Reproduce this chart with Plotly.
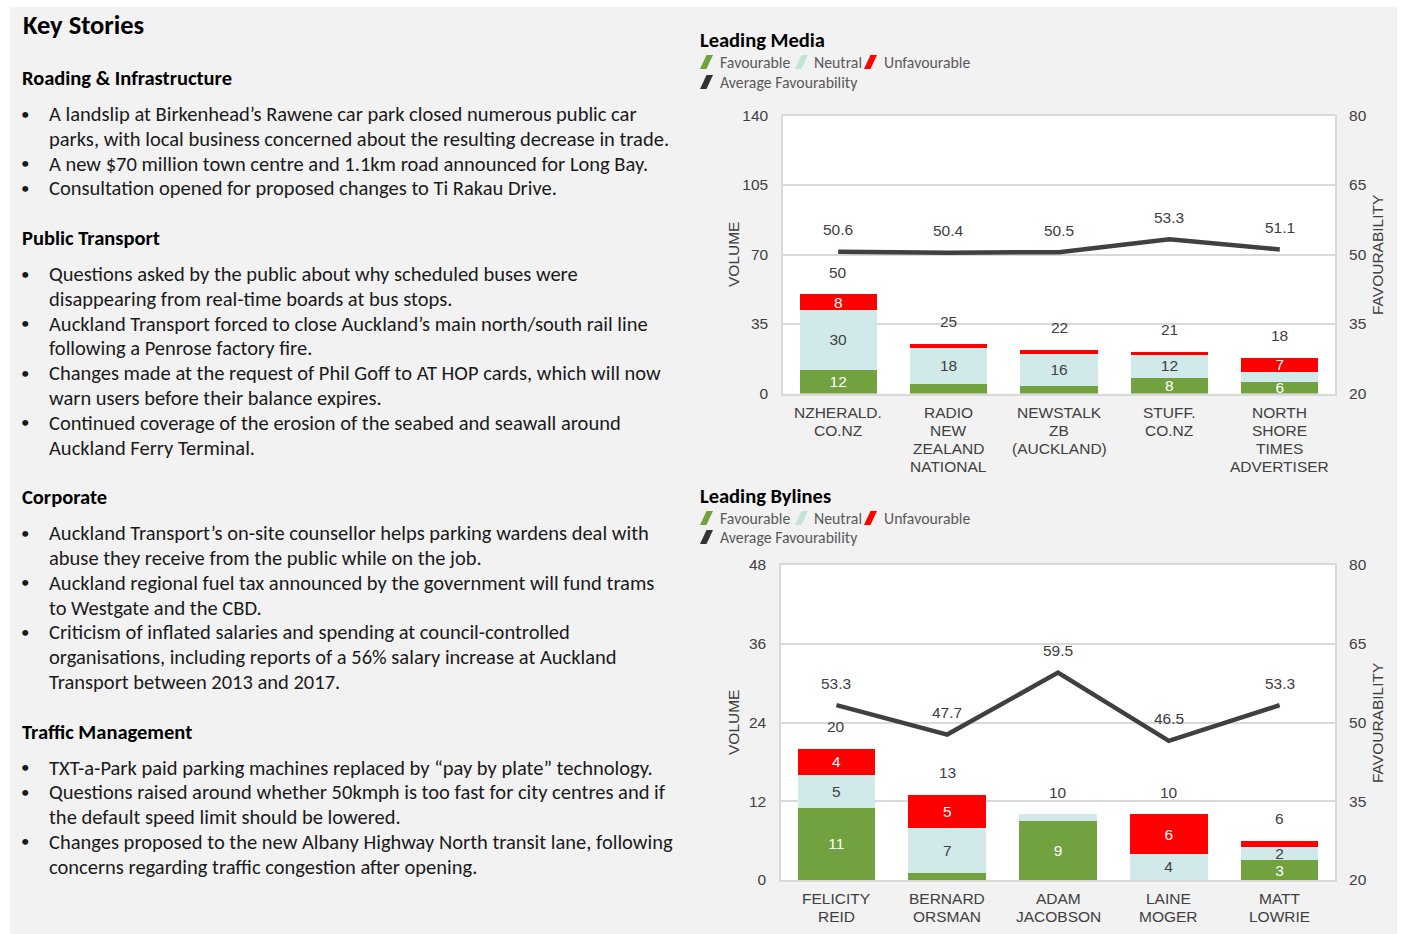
import plotly.graph_objects as go

W, H = 1403, 934

# ---------------- DATA ----------------
media_categories = ["NZHERALD.\nCO.NZ", "RADIO\nNEW\nZEALAND\nNATIONAL", "NEWSTALK\nZB\n(AUCKLAND)",
                    "STUFF.\nCO.NZ", "NORTH\nSHORE\nTIMES\nADVERTISER"]
media_favourable = [12, 5, 4, 8, 6]
media_neutral = [30, 18, 16, 12, 5]
media_unfavourable = [8, 2, 2, 1, 7]
media_avg_favourability = [50.6, 50.4, 50.5, 53.3, 51.1]

byline_categories = ["FELICITY\nREID", "BERNARD\nORSMAN", "ADAM\nJACOBSON", "LAINE\nMOGER", "MATT\nLOWRIE"]
byline_favourable = [11, 1, 9, 0, 3]
byline_neutral = [5, 7, 1, 4, 2]
byline_unfavourable = [4, 5, 0, 6, 1]
byline_avg_favourability = [53.3, 47.7, 59.5, 46.5, 53.3]

media_volume_ticks = [0, 35, 70, 105, 140]
byline_volume_ticks = [0, 12, 24, 36, 48]
favourability_ticks = [20, 35, 50, 65, 80]

media_min_label = 6
byline_min_label = 2

stories = [
    ("Roading & Infrastructure", [
        ["A landslip at Birkenhead\u2019s Rawene car park closed numerous public car",
         "parks, with local business concerned about the resulting decrease in trade."],
        ["A new $70 million town centre and 1.1km road announced for Long Bay."],
        ["Consultation opened for proposed changes to Ti Rakau Drive."],
    ]),
    ("Public Transport", [
        ["Questions asked by the public about why scheduled buses were",
         "disappearing from real-time boards at bus stops."],
        ["Auckland Transport forced to close Auckland\u2019s main north/south rail line",
         "following a Penrose factory fire."],
        ["Changes made at the request of Phil Goff to AT HOP cards, which will now",
         "warn users before their balance expires."],
        ["Continued coverage of the erosion of the seabed and seawall around",
         "Auckland Ferry Terminal."],
    ]),
    ("Corporate", [
        ["Auckland Transport\u2019s on-site counsellor helps parking wardens deal with",
         "abuse they receive from the public while on the job."],
        ["Auckland regional fuel tax announced by the government will fund trams",
         "to Westgate and the CBD."],
        ["Criticism of inflated salaries and spending at council-controlled",
         "organisations, including reports of a 56% salary increase at Auckland",
         "Transport between 2013 and 2017."],
    ]),
    ("Traffic Management", [
        ["TXT-a-Park paid parking machines replaced by \u201cpay by plate\u201d technology."],
        ["Questions raised around whether 50kmph is too fast for city centres and if",
         "the default speed limit should be lowered."],
        ["Changes proposed to the new Albany Highway North transit lane, following",
         "concerns regarding traffic congestion after opening."],
    ]),
]

# ---------------- STYLE ----------------
GREEN = "#72a140"
NEUTRAL = "#d2e9e9"
RED = "#ff0000"
LINE = "#404040"
AXIS_TXT = "#404040"
GRID = "#d9d9d9"
NARROW = "Liberation Sans Narrow, Arial Narrow, Liberation Sans, Arial, sans-serif"
BODY = "Carlito, Calibri, Lato, sans-serif"
BODY_SIZE = 20.5


def px(x):
    return x / W


def py(y):
    return 1 - y / H


fig = go.Figure()


def labels(vals, minv):
    return [str(v) if v >= minv else "" for v in vals]


def add_chart(cats, fav, neu, unf, avg, xa, ya, ya2, minv):
    xs = [c.replace("\n", " ") for c in cats]
    for vals, col, tcol, name in [(fav, GREEN, "white", "Favourable"),
                                   (neu, NEUTRAL, AXIS_TXT, "Neutral"),
                                   (unf, RED, "white", "Unfavourable")]:
        fig.add_trace(go.Bar(x=xs, y=vals, name=name, marker=dict(color=col, line=dict(width=0)),
                             text=labels(vals, minv), textposition="inside", textangle=0,
                             insidetextanchor="middle",
                             textfont=dict(color=tcol, size=15.5, family=NARROW),
                             xaxis=xa, yaxis=ya, showlegend=False, hoverinfo="x+y"))
    fig.add_trace(go.Scatter(x=xs, y=avg, mode="lines", line=dict(color=LINE, width=4.5),
                             xaxis=xa, yaxis=ya2, showlegend=False, name="Average Favourability"))
    totals = [a + b + c for a, b, c in zip(fav, neu, unf)]
    for x, t in zip(xs, totals):
        fig.add_annotation(x=x, y=t, xref=xa, yref=ya, text=str(t), showarrow=False,
                           yshift=22, font=dict(size=15.5, color=AXIS_TXT, family=NARROW))
    for x, a in zip(xs, avg):
        fig.add_annotation(x=x, y=a, xref=xa, yref=ya2, text=f"{a:.1f}", showarrow=False,
                           yshift=22, font=dict(size=15.5, color=AXIS_TXT, family=NARROW))
    for x, c in zip(xs, cats):
        for i, line in enumerate(c.split("\n")):
            fig.add_annotation(x=x, y=0, xref=xa, yref=ya, text=line, showarrow=False,
                               yshift=-(18.5 + 18 * i), font=dict(size=15.5, color=AXIS_TXT, family=NARROW))


add_chart(media_categories, media_favourable, media_neutral, media_unfavourable,
          media_avg_favourability, "x", "y", "y2", media_min_label)
add_chart(byline_categories, byline_favourable, byline_neutral, byline_unfavourable,
          byline_avg_favourability, "x2", "y3", "y4", byline_min_label)

axis_common = dict(showgrid=False, zeroline=False, fixedrange=True, automargin=False)
y_common = dict(tickfont=dict(size=15.5, color=AXIS_TXT, family=NARROW), zeroline=False,
                ticks="outside", ticklen=10, tickcolor="rgba(0,0,0,0)", fixedrange=True,
                automargin=False)

c1 = dict(l=783, r=1335, t=115.5, b=393.5)
c2 = dict(l=781, r=1335, t=565, b=880)

fig.update_layout(
    width=W, height=H, autosize=False, margin=dict(l=0, r=0, t=0, b=0, pad=0),
    paper_bgcolor="#f2f2f2", plot_bgcolor="white",
    barmode="stack", bargap=0.3,
    uniformtext=dict(minsize=15.5, mode="show"),
    xaxis=dict(domain=[px(c1["l"]), px(c1["r"])], showticklabels=False, showline=True,
               linecolor=GRID, linewidth=1.5, mirror=True, anchor="y", **axis_common),
    yaxis=dict(domain=[py(c1["b"]), py(c1["t"])], range=[0, 140], tickvals=media_volume_ticks,
               showgrid=True, gridcolor=GRID, gridwidth=1.5, showline=True, linecolor=GRID,
               linewidth=1.5, mirror=True, anchor="x", **y_common),
    yaxis2=dict(domain=[py(c1["b"]), py(c1["t"])], range=[20, 80], tickvals=favourability_ticks,
                overlaying="y", side="right", showgrid=False, anchor="x", **y_common),
    xaxis2=dict(domain=[px(c2["l"]), px(c2["r"])], showticklabels=False, showline=True,
                linecolor=GRID, linewidth=1.5, mirror=True, anchor="y3", **axis_common),
    yaxis3=dict(domain=[py(c2["b"]), py(c2["t"])], range=[0, 48], tickvals=byline_volume_ticks,
                showgrid=True, gridcolor=GRID, gridwidth=1.5, showline=True, linecolor=GRID,
                linewidth=1.5, mirror=True, anchor="x2", **y_common),
    yaxis4=dict(domain=[py(c2["b"]), py(c2["t"])], range=[20, 80], tickvals=favourability_ticks,
                overlaying="y3", side="right", showgrid=False, anchor="x2", **y_common),
)

shapes = []
# white frame strips around the grey page
for x0, y0, x1, y1 in [(0, 0, 10, H), (0, 0, W, 7), (1397, 0, W, H)]:
    shapes.append(dict(type="rect", xref="paper", yref="paper", x0=px(x0), x1=px(x1),
                       y0=py(y1), y1=py(y0), fillcolor="white", line=dict(width=0), layer="below"))

ann = []


def text(x, y, s, size, color="#000000", bold=False, family=BODY, anchor="left", angle=0):
    ann.append(dict(x=px(x), y=py(y), xref="paper", yref="paper", text=f"<b>{s}</b>" if bold else s,
                    showarrow=False, xanchor=anchor, yanchor="middle", textangle=angle,
                    font=dict(size=size, color=color, family=family)))


# Left panel
text(21, 25, "Key Stories", 26.5, bold=True)
y = 78
for heading, bullets in stories:
    text(20, y, heading, BODY_SIZE, bold=True)
    y += 36
    for bullet in bullets:
        text(25, y, "\u2022", 17, color="#1a1a1a", anchor="center")
        for line in bullet:
            text(47, y, line, BODY_SIZE, color="#1a1a1a")
            y += 24.8
    y += 49.6 - 24.8


def para(x0, yc, color):
    h = 14
    return dict(type="path", xref="paper", yref="paper",
                path=(f"M {px(x0 + 6.5)},{py(yc - h/2)} L {px(x0 + 13)},{py(yc - h/2)} "
                      f"L {px(x0 + 6.5)},{py(yc + h/2)} L {px(x0)},{py(yc + h/2)} Z"),
                fillcolor=color, line=dict(width=0))


def legend_block(title, yt, y1, y2):
    text(698, yt, title, 20.5, bold=True)
    items = [(700, 718, y1, GREEN, "Favourable"), (795, 812, y1, "#c3e3d6", "Neutral"),
             (864, 882, y1, RED, "Unfavourable"), (700, 718, y2, "#333333", "Average Favourability")]
    for sx, tx, yy, col, lab in items:
        shapes.append(para(sx, yy, col))
        text(tx, yy, lab, 15.8, color="#595959")


legend_block("Leading Media", 40, 62, 82)
legend_block("Leading Bylines", 496, 518, 537)

# axis titles
for yc in (255, 723):
    text(733, yc, "VOLUME", 15.5, color=AXIS_TXT, family=NARROW, anchor="center", angle=-90)
    text(1377, yc, "FAVOURABILITY", 15.5, color=AXIS_TXT, family=NARROW, anchor="center", angle=-90)

fig.update_layout(shapes=shapes, annotations=list(fig.layout.annotations) + ann)
fig.write_html(
    "out.html",
    config={"displayModeBar": False},
    post_script=("var d=document.getElementById('{plot_id}');"
                 "d.style.position='fixed';d.style.top='0px';d.style.left='0px';"
                 "document.body.style.margin='0';document.body.style.overflow='hidden';"
                 "document.documentElement.style.overflow='hidden';"),
)
